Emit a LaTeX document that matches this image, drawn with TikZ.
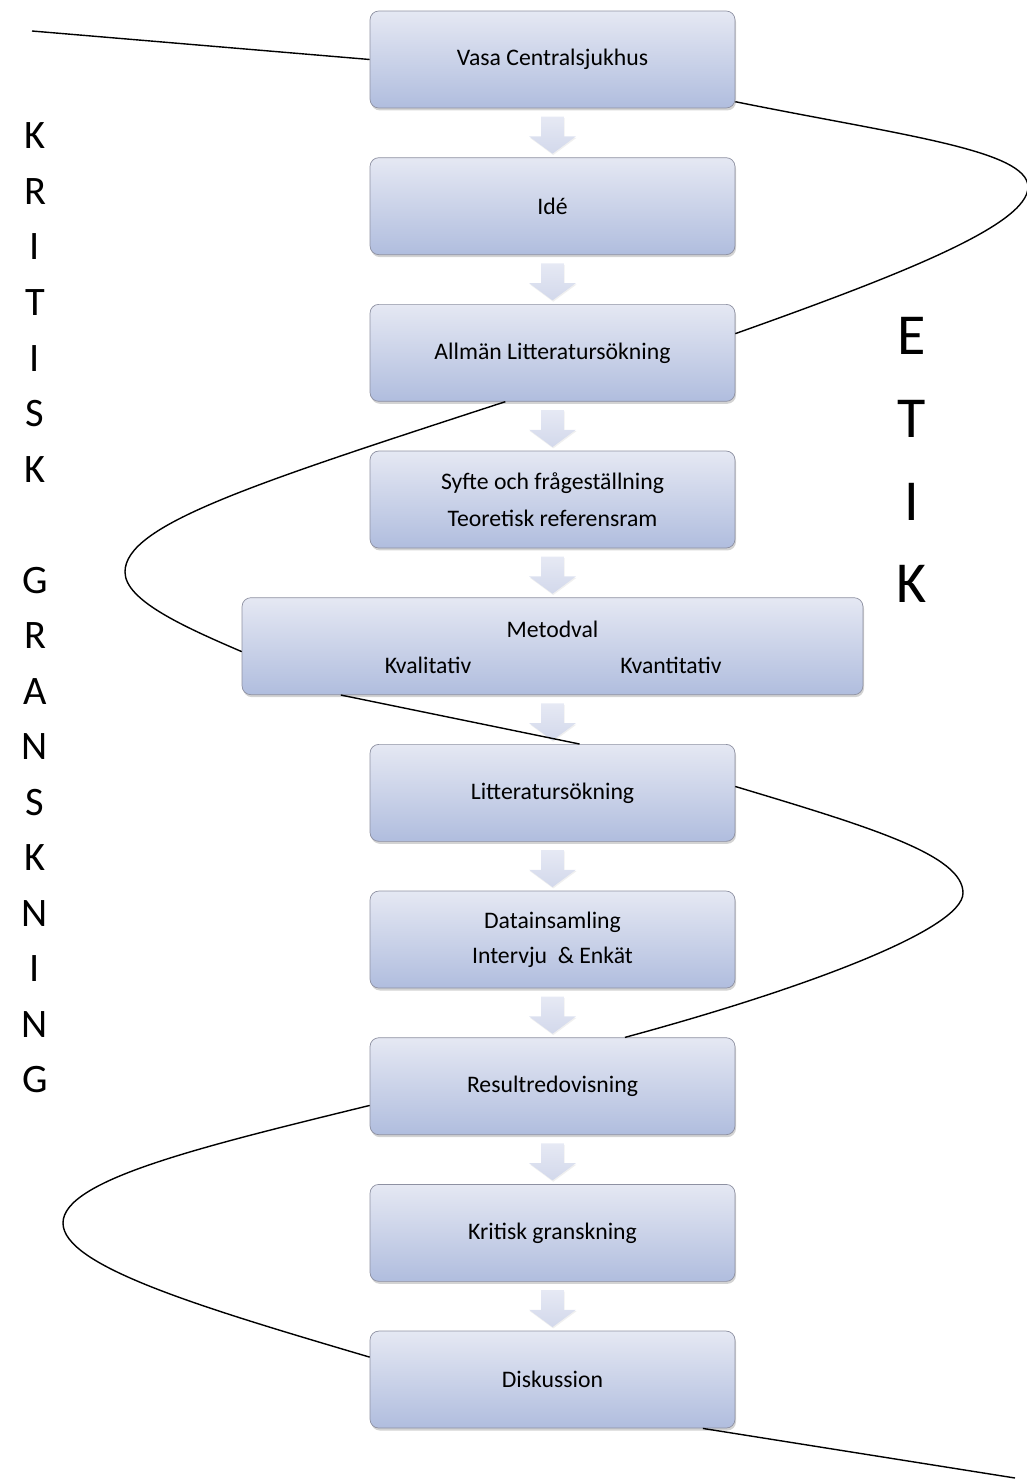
\documentclass[tikz,border=0pt]{standalone}
\usepackage{fontspec}
\setmainfont{Carlito}
\usetikzlibrary{shapes,arrows,positioning,shadows}

\definecolor{boxtop}{HTML}{E5E8F3}
\definecolor{boxbottom}{HTML}{B0BDDE}
\definecolor{boxline}{HTML}{8E91A2}
\definecolor{arrowtop}{HTML}{E6E9F4}
\definecolor{arrowbottom}{HTML}{D2D8EB}

\tikzset{
  stage/.style={rectangle, rounded corners=5pt, draw=boxline, top color=boxtop,
    bottom color=boxbottom, minimum width=7.3cm, minimum height=1.94cm,
    align=center, font=\fontsize{13.5}{21}\selectfont,
    drop shadow={opacity=0.35, shadow xshift=0.6pt, shadow yshift=-1.4pt}},
  flowarrow/.style={single arrow, shape border rotate=270, draw=none,
    inner sep=0.22cm, minimum height=0.74cm, minimum width=0.92cm,
    single arrow head extend=0.24cm, single arrow tip angle=107,
    top color=arrowtop, bottom color=arrowbottom,
    drop shadow={opacity=0.12, shadow xshift=0.4pt, shadow yshift=-0.8pt}},
  trail/.style={line width=0.8pt},
  bigletters/.style={align=center, inner sep=0pt}
}

\begin{document}
\begin{tikzpicture}[x=0.02cm, y=-0.02cm]
  \useasboundingbox (0,0) rectangle (1027,1484);

  % steps of the work
  \node[stage] (vasa) at (552.5,59.5) {Vasa Centralsjukhus};
  \node[stage, below=0.98cm of vasa] (ide) {Idé};
  \node[stage, below=0.98cm of ide] (allman) {Allmän Litteratursökning};
  \node[stage, below=0.98cm of allman] (syfte) {Syfte och frågeställning\\Teoretisk referensram};
  \node[stage, below=0.98cm of syfte, minimum width=12.42cm] (metod) {};
  \node[stage, below=0.98cm of metod] (litt) {Litteratursökning};
  \node[stage, below=0.98cm of litt, font=\fontsize{13.5}{20}\selectfont] (data) {Datainsamling\\Intervju \ \& Enkät};
  \node[stage, below=0.98cm of data] (result) {Resultredovisning};
  \node[stage, below=0.98cm of result] (kritisk) {Kritisk granskning};
  \node[stage, below=0.98cm of kritisk] (diskussion) {Diskussion};

  % texts in the wide box
  \node[font=\fontsize{13.5}{16}\selectfont] (metodval) at ([yshift=0.33cm]metod.center) {Metodval};
  \node[font=\fontsize{13.5}{16}\selectfont] (kval) at ([xshift=-2.49cm,yshift=-0.39cm]metod.center) {Kvalitativ};
  \node[font=\fontsize{13.5}{16}\selectfont] (kvant) at ([xshift=2.37cm,yshift=-0.39cm]metod.center) {Kvantitativ};

  % block arrows
  \node[flowarrow, below=0.16cm of vasa] (a1) {};
  \node[flowarrow, below=0.16cm of ide] (a2) {};
  \node[flowarrow, below=0.16cm of allman] (a3) {};
  \node[flowarrow, below=0.16cm of syfte] (a4) {};
  \node[flowarrow, below=0.16cm of metod] (a5) {};
  \node[flowarrow, below=0.16cm of litt] (a6) {};
  \node[flowarrow, below=0.16cm of data] (a7) {};
  \node[flowarrow, below=0.16cm of result] (a8) {};
  \node[flowarrow, below=0.16cm of kritisk] (a9) {};

  % side words
  \node[bigletters, font=\fontsize{23}{31.6}\selectfont] (granskning) at (35,608)
    {K\\R\\I\\T\\I\\S\\K\\\mbox{}\\G\\R\\A\\N\\S\\K\\N\\I\\N\\G};
  \node[bigletters, font=\fontsize{33}{47.2}\selectfont] (etik) at (912,460)
    {E\\T\\I\\K};

  % the winding line
  \coordinate (start) at (32,31);
  \coordinate (finish) at (1015,1478);
  \draw[trail] (start) -- (vasa.west);
  \draw[trail] (vasa.-13) .. controls (900,135) and (1028,150) .. (1028,187)
    .. controls (1028,225) and (900,275) .. (allman.6);
  \draw[trail] (allman.226) .. controls (250,485) and (125,525) .. (125,572)
    .. controls (125,600) and (182,626) .. (metod.181);
  \draw[trail] (metod.193) -- (litt.61);
  \draw[trail] (litt.2) .. controls (870,827) and (963,855) .. (963,893)
    .. controls (963,930) and (800,990) .. (result.34);
  \draw[trail] (result.186) .. controls (200,1147) and (63,1180) .. (63,1223)
    .. controls (63,1266) and (200,1307) .. (diskussion.173);
  \draw[trail] (diskussion.-18) -- (finish);
\end{tikzpicture}
\end{document}
